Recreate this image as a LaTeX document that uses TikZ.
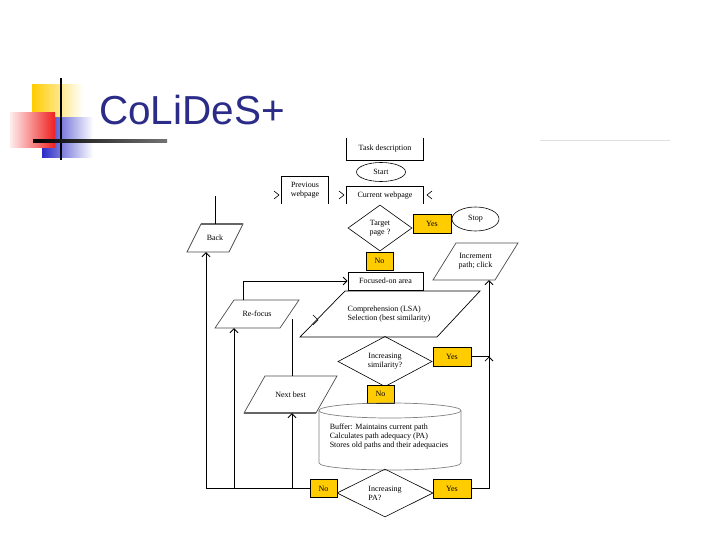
\documentclass[tikz,border=0pt]{standalone}
\usepackage{fontspec}
\setmainfont{Liberation Serif}
\newfontfamily\titlefont{Liberation Sans}
\usetikzlibrary{shapes.geometric,arrows.meta,calc}
\definecolor{gold}{HTML}{FFCC00}
\definecolor{titleblue}{HTML}{2B2B88}
\definecolor{sqyellow}{HTML}{FFCC00}
\definecolor{sqblue}{HTML}{2A2AC8}
\definecolor{sqred}{HTML}{F02020}
\tikzset{
  lbl/.style={font=\fontsize{8}{9}\selectfont, align=center, inner sep=0pt},
  ans/.style={lbl, draw, line width=0.7pt, fill=gold},
  flow/.style={line width=0.8pt},
  arr/.style={flow, -{Straight Barb[length=4pt,width=8pt]}},
  chev/.style={line width=0.6pt},
  para/.style={draw=black!70, line width=0.7pt},
  dia/.style={lbl, diamond, draw, line width=0.6pt},
  oval/.style={lbl, ellipse, draw, line width=0.6pt},
  cyl/.style={draw=black!50, line width=0.7pt},
}
\begin{document}
\begin{tikzpicture}[x=1pt,y=-1pt]
\useasboundingbox (0,0) rectangle (720,540);
% slide decoration
\shade[left color=sqyellow, middle color=sqyellow, right color=white] (32,85) rectangle (83,118);
\shade[left color=sqblue, middle color=sqblue!90, right color=white] (42,118) rectangle (93,158);
\shade[left color=sqred!8, right color=sqred] (10,113) rectangle (55,148);
\draw[line width=2pt] (61,78) -- (61,160);
\shade[left color=black, right color=black!55] (33,140) rectangle (167,142.5);
\draw[black!12, line width=1pt] (540,141) -- (670,141);
\node[anchor=base west, inner sep=0, font=\titlefont\fontsize{40.5}{42}\selectfont, text=titleblue] (title) at (99,125) {CoLiDeS+};
% flowchart
\node[lbl, minimum width=76pt, minimum height=22pt] (task) at (385,149) {Task description};
\draw[flow] (task.north west) -- (task.south west) -- (task.south east) -- (task.north east);
\node[oval, minimum width=49pt, minimum height=19pt] (start) at (381,172) {Start};
\node[lbl, minimum width=46pt, minimum height=27pt] (prev) at (305,190.5) {Previous\\webpage};
\draw[flow] (prev.south west) -- (prev.north west) -- (prev.north east) -- (prev.south east);
\node[lbl, minimum width=76pt, minimum height=17pt] (cur) at (385,195.5) {Current webpage};
\draw[flow] (cur.south west) -- (cur.north west) -- (cur.north east) -- (cur.south east);
\node[dia, minimum width=64pt, minimum height=46pt] (target) at (380,228) {Target\\page ?};
\node[ans, minimum width=38pt, minimum height=19pt] (yes1) at (432,223.5) {Yes};
\node[oval, minimum width=47pt, minimum height=24pt] (stop) at (475.5,219) {Stop};
\node[ans, minimum width=27pt, minimum height=18pt] (no1) at (379.5,261) {No};
\draw[para] (456,243) -- (518,243) -- (495,280) -- (433,280) -- cycle;
\node[lbl, minimum width=62pt, minimum height=37pt] (incr) at (475.5,261.5) {Increment\\path; click};
\draw[para] (201,224) -- (243,224) -- (229,252) -- (187,252) -- cycle;
\draw[black!60, line width=1.5pt] (201,224) -- (243,224);
\node[lbl, minimum width=42pt, minimum height=28pt] (back) at (215,238) {Back};
\node[lbl, draw, line width=0.8pt, minimum width=75pt, minimum height=18pt] (focus) at (385.5,281) {Focused-on area};
\draw[line width=0.7pt] (345,291) -- (480,291) -- (437,337) -- (300,337) -- cycle;
\node[lbl, align=left, minimum height=46pt] (comp) at (389,314) {Comprehension (LSA)\\Selection (best similarity)};
\draw[para] (234,300) -- (299,300) -- (280,328) -- (215,328) -- cycle;
\node[lbl, minimum width=65pt, minimum height=28pt] (refocus) at (257,314) {Re-focus};
\node[dia, minimum width=94pt, minimum height=47pt] (sim) at (385,361.5) {Increasing\\similarity?};
\node[ans, minimum width=38pt, minimum height=19pt] (yes2) at (452,356.5) {Yes};
\node[ans, minimum width=27pt, minimum height=18pt] (no2) at (380.5,394) {No};
\draw[para] (265,376) -- (337,376) -- (316,413) -- (244,413) -- cycle;
\draw[black!60, line width=1.5pt] (244,413) -- (316,413);
\node[lbl, minimum width=72pt, minimum height=37pt] (next) at (290.5,394.5) {Next best};
\draw[cyl] (319,410.5) -- (319,463) arc[start angle=180, end angle=0, x radius=71, y radius=7] -- (461,410.5);
\draw[cyl] (390,410.5) ellipse[x radius=71, y radius=7.5];
\node[lbl, align=left, minimum width=142pt, minimum height=60pt] (buf) at (389,437) {Buffer: Maintains current path\\Calculates path adequacy (PA)\\Stores old paths and their adequacies};
\node[dia, align=left, minimum width=96pt, minimum height=48pt] (pa) at (385,493) {Increasing\\PA?};
\node[ans, minimum width=38pt, minimum height=19pt] (yes3) at (452,488.5) {Yes};
\node[ans, minimum width=27pt, minimum height=18pt] (no3) at (323.5,488.5) {No};
% connectors
\coordinate (backend) at (215,196);
\draw[flow] (back.north) -- (backend);
\draw[arr] (no3.west) -| ([xshift=-9pt]back.south);
\draw[arr] ([xshift=-23pt]refocus.south |- no3.west) -- ([xshift=-23pt]refocus.south);
\draw[arr] ([xshift=1.5pt]next.south |- no3.west) -- ([xshift=1.5pt]next.south);
\draw[arr] ([xshift=-14pt]refocus.north) |- (focus.west);
\coordinate (nbend) at (292,319);
\draw[flow] (next.north -| nbend) -- (nbend);
\coordinate (rj) at (489,356.5);
\draw[arr] (yes3.east) -| (rj);
\draw[arr] (yes2.east) -- (rj) -- (rj |- incr.south);
% stray arrow tips
\draw[chev] (313,315) -- (318,320) -- (313,325);
\draw[chev] (274,191) -- (279,195) -- (274,199);
\draw[chev] (339,191) -- (344,195) -- (339,199);
\draw[chev] (432,191) -- (427,195) -- (432,199);
\end{tikzpicture}
\end{document}
